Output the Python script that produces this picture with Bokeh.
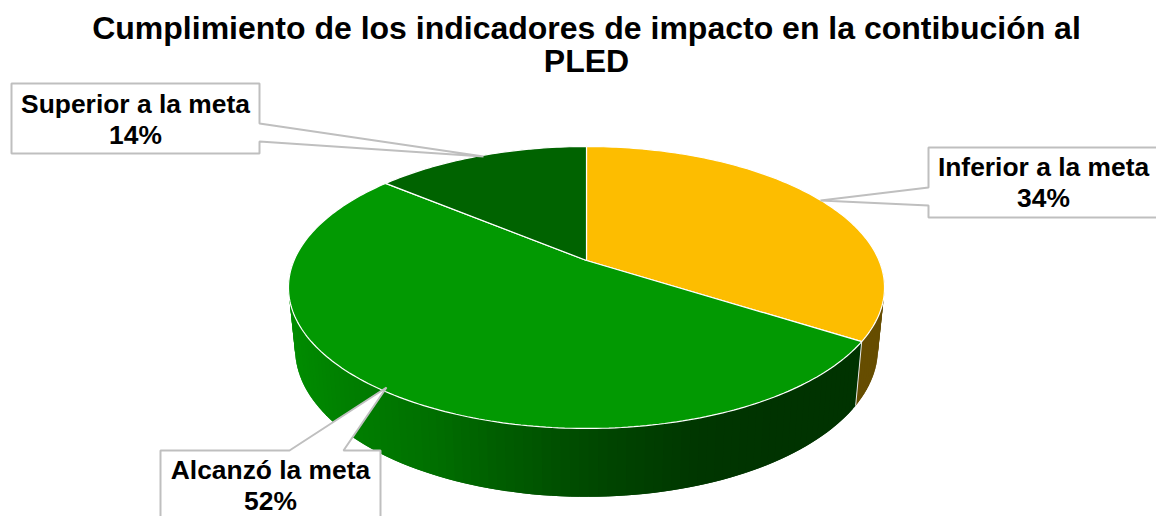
import math
from bokeh.plotting import figure
from bokeh.models import Range1d
from bokeh.core.properties import value
from bokeh.embed import file_html
from bokeh.resources import INLINE

title_lines = ["Cumplimiento de los indicadores de impacto en la contibución al", "PLED"]
categories = ["Inferior a la meta", "Alcanzó la meta", "Superior a la meta"]
percent = [34, 52, 14]
top_colors = ["#FDBD00", "#029902", "#006300"]

# perspective of the 3D pie (pixels)
CX, CY, A, B, W = 586.0, 260.0, 292.5, 135.8, 0.1915

def top(theta):
    X, Y = math.sin(theta), math.cos(theta)
    d = 1 + W * Y
    return CX + A * X / d, CY - B * Y / d

def bottom(theta):
    x, y = top(theta)
    return CX + (x - CX) * 0.978, CY + (y - CY) * 1.05 + 60

stops = [(288, (0, 140, 0)), (340, (0, 128, 0)), (430, (0, 111, 0)), (500, (0, 93, 0)),
         (600, (0, 70, 0)), (700, (0, 54, 0)), (780, (0, 51, 0)), (870, (0, 51, 0))]

def wall_green(x):
    for (x0, c0), (x1, c1) in zip(stops, stops[1:]):
        if x <= x1:
            t = max(0.0, (x - x0) / (x1 - x0))
            return "#%02x%02x%02x" % tuple(round(a + (b - a) * t) for a, b in zip(c0, c1))
    return "#003300"

p = figure(width=1156, height=516, toolbar_location=None, output_backend="svg",
           x_range=Range1d(0, 1156), y_range=Range1d(516, 0), min_border=0,
           outline_line_color=None, background_fill_color="white", border_fill_color="white")
p.axis.visible = False
p.grid.visible = False

total = sum(percent)
angles = [0.0]
for v in percent:
    angles.append(angles[-1] + 2 * math.pi * v / total)

# side walls (front half only); painted with overlap so no seams show
front_end = 1.5 * math.pi
for i in (0, 1):
    a0, a1 = max(angles[i], math.pi / 2), min(angles[i + 1], front_end)
    n = max(2, int((a1 - a0) / math.radians(1.5)))
    for k in range(n):
        t0 = a0 + (a1 - a0) * k / n
        t1 = a0 + (a1 - a0) * (k + 1) / n
        t2 = min(a1, t1 + (a1 - a0) / n)
        pts = [top(t0), top(t2), bottom(t2), bottom(t0)]
        col = "#664d00" if i == 0 else wall_green((top(t0)[0] + top(t1)[0]) / 2)
        p.patch([q[0] for q in pts], [q[1] for q in pts], fill_color=col, line_color=None)

# white edge between the yellow and green walls
q0, q1 = top(angles[1]), bottom(angles[1])
p.line([q0[0], q1[0]], [q0[1], q1[1]], line_color="#e8e8e8", line_width=1)

# top face slices
for i, col in enumerate(top_colors):
    n = max(8, int((angles[i + 1] - angles[i]) / math.radians(1.0)))
    rim = [top(angles[i] + (angles[i + 1] - angles[i]) * k / n) for k in range(n + 1)]
    xs = [CX] + [q[0] for q in rim]
    ys = [CY] + [q[1] for q in rim]
    p.patch(xs, ys, fill_color=col, line_color="white", line_width=1.2)

# callouts
callouts = [
    ([928, 928, 820, 928, 928, 1170, 1170], [147, 187, 200, 205, 217, 217, 147]),
    ([160, 160, 289, 386, 343, 380, 380], [530, 450, 450, 387, 450, 450, 530]),
    ([11, 259, 259, 483, 259, 259, 11], [83, 83, 123, 156, 141, 153, 153]),
]
for xs, ys in callouts:
    p.patch(xs, ys, fill_color="white", line_color="#BFBFBF", line_width=2)

label_pos = [(1043, 166.5, 197.5), (270, 469.5, 500.5), (135, 103.5, 134.5)]
tx, ty, tt = [], [], []
for cat, v, (x, y1, y2) in zip(categories, percent, label_pos):
    tx += [x, x]
    ty += [y1, y2]
    tt += [cat, f"{v}%"]
p.text(tx, ty, text=tt, text_font=value("Liberation Sans"), text_font_style="bold",
       text_font_size="26.4px", text_color="black", text_align="center", text_baseline="middle")

p.text([586, 586], [27.5, 60.5], text=title_lines, text_font=value("Liberation Sans"),
       text_font_style="bold", text_font_size="32px", text_color="black",
       text_align="center", text_baseline="middle")

open("out.html", "w").write(file_html(p, INLINE))
